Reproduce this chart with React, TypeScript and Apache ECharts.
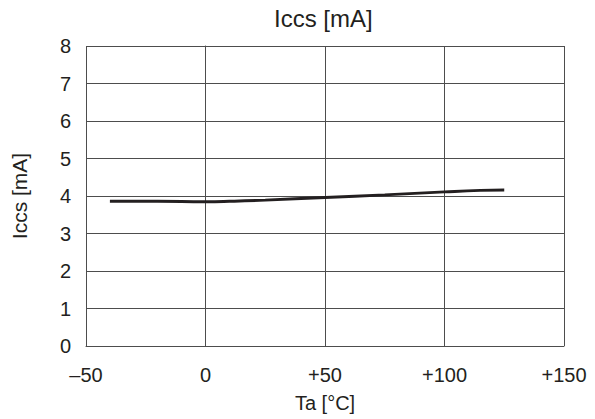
import React, { useEffect, useRef } from "react";
import * as echarts from "echarts";

const temps = [-40, -20, 0, 10, 25, 50, 75, 100, 115, 125];
const iccs = [3.86, 3.86, 3.85, 3.86, 3.89, 3.96, 4.03, 4.11, 4.15, 4.16];
const xTicks: Record<number, string> = { [-50]: "–50", 0: "0", 50: "+50", 100: "+100", 150: "+150" };

export default function App() {
  const ref = useRef<HTMLDivElement>(null);
  useEffect(() => {
    if (!ref.current) return;
    const chart = echarts.init(ref.current, null, { renderer: "svg" });
    const font = "Liberation Sans, Arial, sans-serif";
    const ink = "#231f20";
    const grid = "#4d4d4d";
    chart.setOption({
      animation: false,
      textStyle: { fontFamily: font },
      title: {
        text: "Iccs [mA]",
        left: 274,
        top: 6,
        padding: 0,
        textStyle: { fontSize: 24, fontWeight: "normal", color: ink, fontFamily: font },
      },
      grid: { left: 86, right: 31, top: 46, bottom: 73, containLabel: false },
      xAxis: {
        type: "value",
        min: -50,
        max: 150,
        interval: 50,
        name: "Ta [°C]",
        nameLocation: "middle",
        nameGap: 47,
        nameTextStyle: { fontSize: 20, color: ink, fontFamily: font },
        axisLine: { show: true, lineStyle: { color: grid, width: 1 } },
        axisTick: { show: false },
        splitLine: { show: true, lineStyle: { color: grid, width: 1 } },
        axisLabel: {
          margin: 19,
          fontSize: 20,
          color: ink,
          fontFamily: font,
          formatter: (v: number) => xTicks[v] ?? String(v),
        },
      },
      yAxis: {
        type: "value",
        min: 0,
        max: 8,
        interval: 1,
        name: "Iccs [mA]",
        nameLocation: "middle",
        nameGap: 56,
        nameRotate: 90,
        nameTextStyle: { fontSize: 21, color: ink, fontFamily: font },
        axisLine: { show: true, lineStyle: { color: grid, width: 1 } },
        axisTick: { show: false },
        splitLine: { show: true, lineStyle: { color: grid, width: 1 } },
        axisLabel: { margin: 15, fontSize: 20, color: ink, fontFamily: font },
      },
      series: [
        {
          type: "line",
          data: temps.map((t, i) => [t, iccs[i]]),
          smooth: true,
          showSymbol: false,
          lineStyle: { color: ink, width: 3 },
        },
      ],
    });
    return () => chart.dispose();
  }, []);
  return (
    <div
      ref={ref}
      style={{ position: "fixed", left: 0, top: 0, width: 595, height: 419, background: "#fff" }}
    />
  );
}
